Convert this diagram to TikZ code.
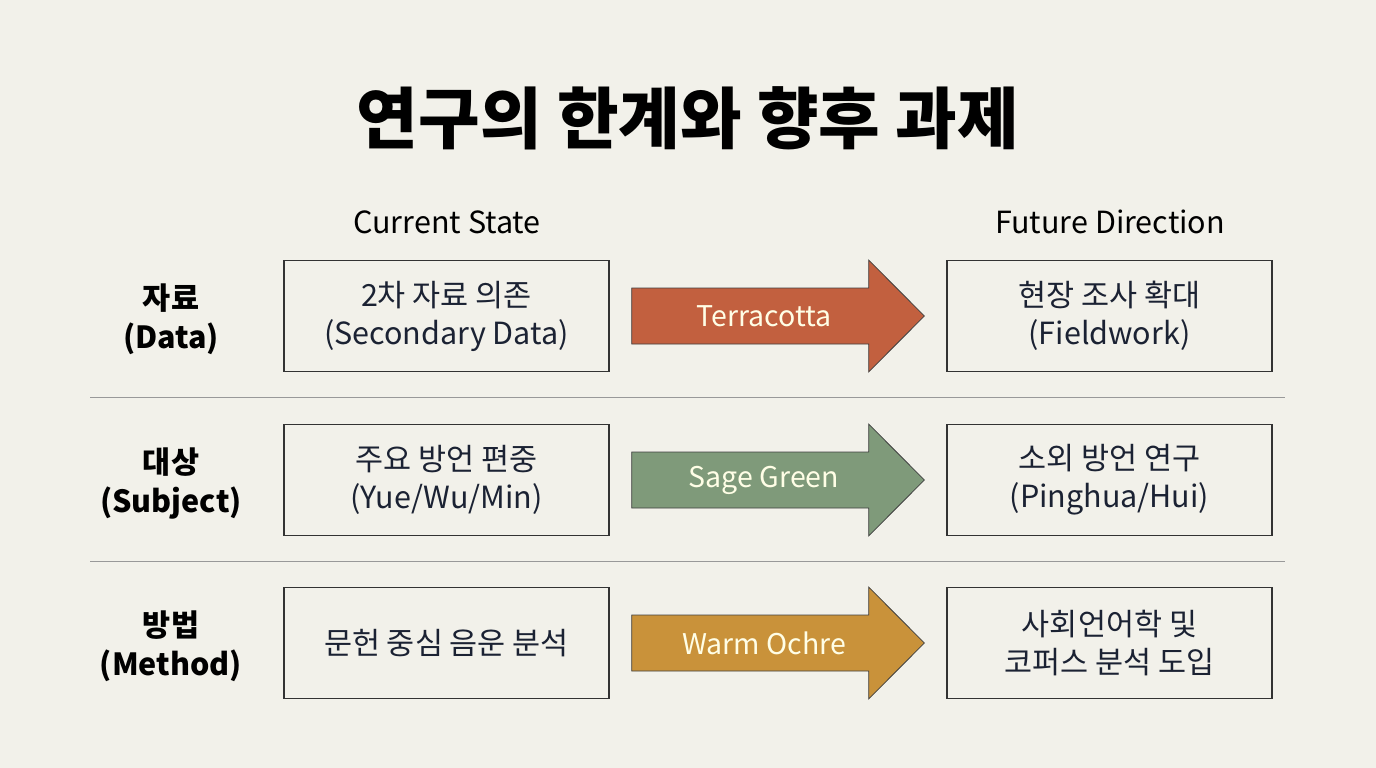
\documentclass[tikz,border=0pt]{standalone}
\usepackage{fontspec}
\setmainfont{Noto Sans CJK KR}
\usetikzlibrary{positioning, calc}

\definecolor{paper}{HTML}{F2F1EA}
\definecolor{terracotta}{HTML}{C2603F}
\definecolor{sage}{HTML}{7F9A7A}
\definecolor{ochre}{HTML}{C9923A}
\definecolor{ink}{HTML}{1B2233}

\begin{document}
\begin{tikzpicture}[x=1pt, y=-1pt,
  box/.style={draw=black!80, line width=1.3pt, minimum width=325pt, minimum height=111pt,
              align=center, text=ink, font=\fontsize{30.5}{38}\selectfont},
  rowlabel/.style={align=center, font=\fontsize{30.5}{39}\selectfont\bfseries},
  colhead/.style={font=\fontsize{30.5}{36}\selectfont},
  flow/.style={draw=black!75, line width=0.8pt},
  flowtext/.style={text=white!90!yellow, font=\fontsize{28.5}{32}\selectfont},
  sep/.style={draw=gray!80, line width=0.8pt}]

  % page
  \useasboundingbox (0,0) rectangle (1376,768);
  \fill[paper] (0,0) rectangle (1376,768);

  % title and column heads
  \node[font=\fontsize{67}{74}\selectfont\bfseries] (title) at (688,118) {연구의 한계와 향후 과제};
  \node[colhead] (curhead) at (447,222) {Current State};
  \node[colhead] (futhead) at (1110,222) {Future Direction};

  % row 1: data
  \node[rowlabel] (lab1) at (171,319) {자료\\(Data)};
  \node[box] (cur1) at (446.5,316) {2차 자료 의존\\(Secondary Data)};
  \node[box] (fut1) at (1109.5,316) {현장 조사 확대\\(Fieldwork)};
  \draw[flow, fill=terracotta]
    ($(cur1.east)+(22,-28)$) -- ++(237,0) -- ++(0,-28) -- ($(fut1.west)+(-22,0)$)
    -- ($(cur1.east)+(259,56)$) -- ++(0,-28) -- ($(cur1.east)+(22,28)$) -- cycle;
  \node[flowtext] (flow1) at ($(cur1.east)!0.5!(fut1.west)+(-14,0)$) {Terracotta};

  \draw[sep] (90,397) -- (1285,397);

  % row 2: subject
  \node[rowlabel] (lab2) at (171,483) {대상\\(Subject)};
  \node[box] (cur2) at (446.5,480) {주요 방언 편중\\(Yue/Wu/Min)};
  \node[box] (fut2) at (1109.5,480) {소외 방언 연구\\(Pinghua/Hui)};
  \draw[flow, fill=sage]
    ($(cur2.east)+(22,-28)$) -- ++(237,0) -- ++(0,-28) -- ($(fut2.west)+(-22,0)$)
    -- ($(cur2.east)+(259,56)$) -- ++(0,-28) -- ($(cur2.east)+(22,28)$) -- cycle;
  \node[flowtext] (flow2) at ($(cur2.east)!0.5!(fut2.west)+(-14,0)$) {Sage Green};

  \draw[sep] (90,561) -- (1285,561);

  % row 3: method
  \node[rowlabel] (lab3) at (171,646) {방법\\(Method)};
  \node[box] (cur3) at (446.5,643) {문헌 중심 음운 분석};
  \node[box] (fut3) at (1109.5,643) {사회언어학 및\\코퍼스 분석 도입};
  \draw[flow, fill=ochre]
    ($(cur3.east)+(22,-28)$) -- ++(237,0) -- ++(0,-28) -- ($(fut3.west)+(-22,0)$)
    -- ($(cur3.east)+(259,56)$) -- ++(0,-28) -- ($(cur3.east)+(22,28)$) -- cycle;
  \node[flowtext] (flow3) at ($(cur3.east)!0.5!(fut3.west)+(-14,0)$) {Warm Ochre};

\end{tikzpicture}
\end{document}
